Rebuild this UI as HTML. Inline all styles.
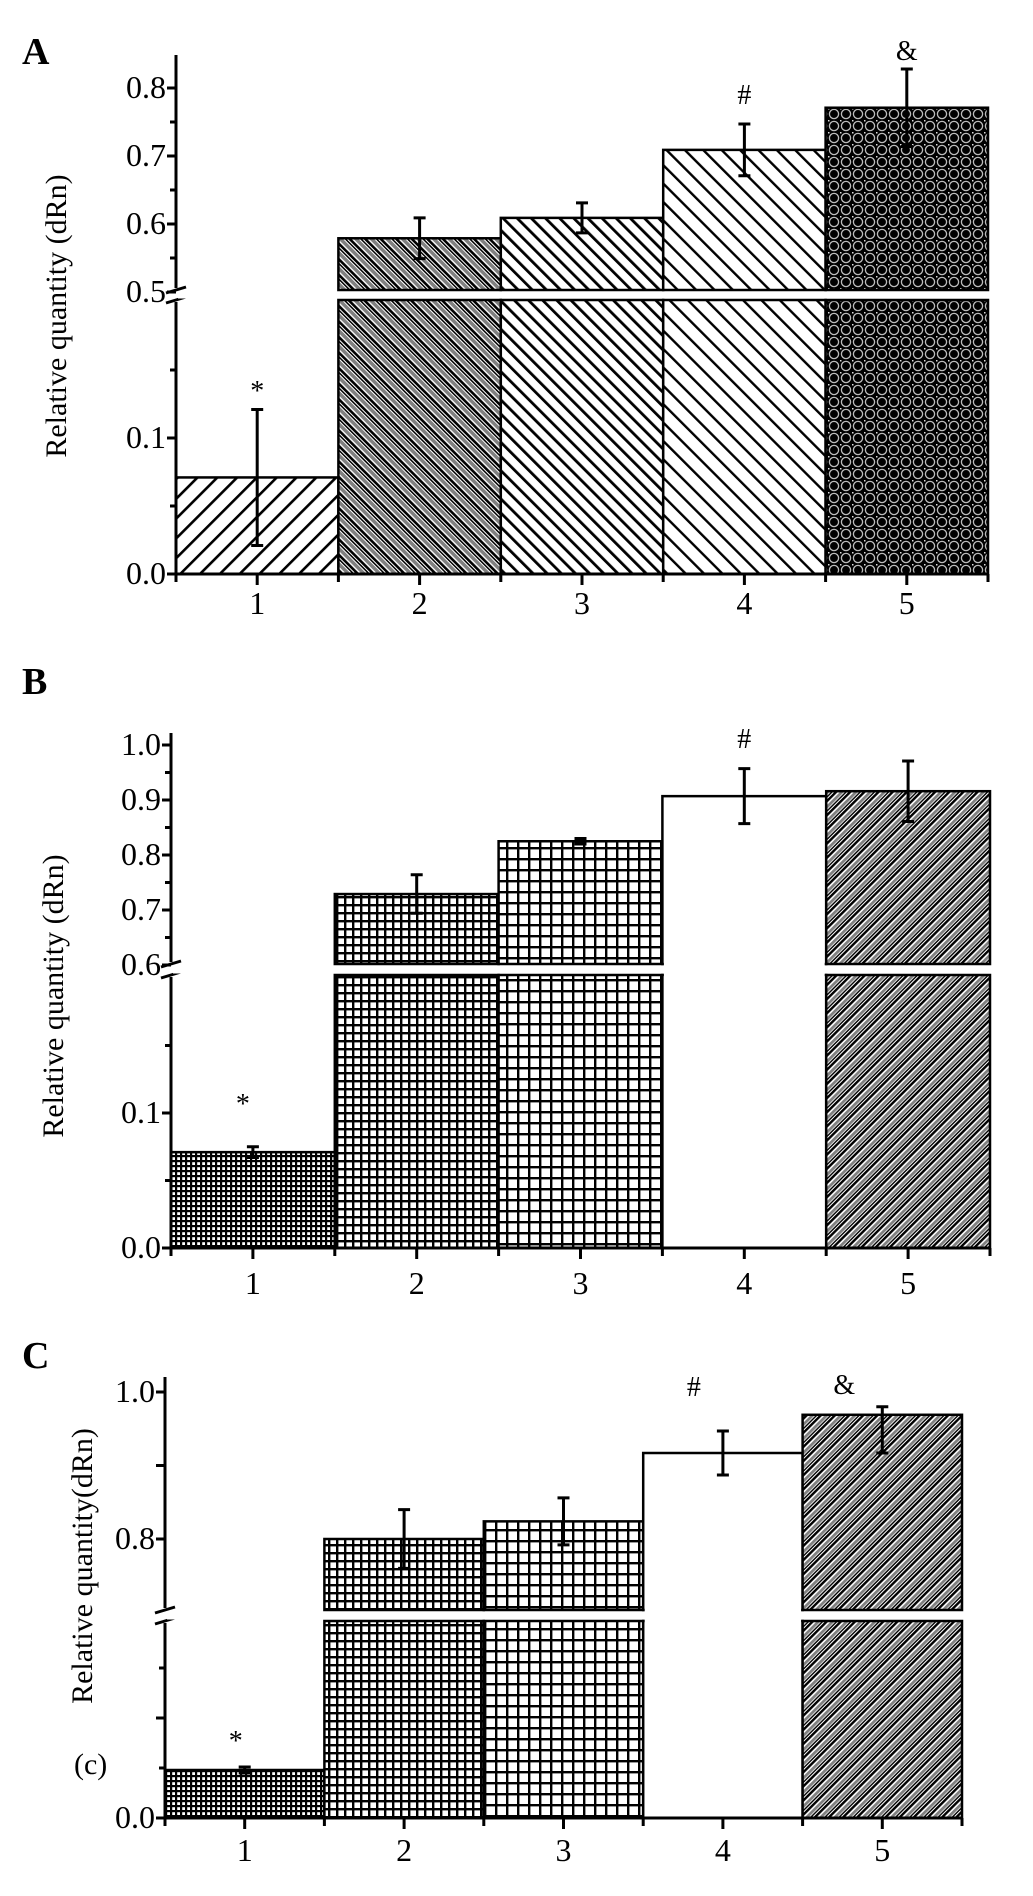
<!DOCTYPE html>
<html><head><meta charset="utf-8">
<style>
html,body{margin:0;padding:0;background:#fff;}
svg{display:block;}
text{font-family:"Liberation Serif",serif;fill:#000;}
</style></head>
<body>
<svg id="fig" width="1033" height="1896" viewBox="0 0 1033 1896" xmlns="http://www.w3.org/2000/svg">
<defs>
  <pattern id="pA1" patternUnits="userSpaceOnUse" width="14" height="14" patternTransform="rotate(45)"><rect width="14" height="14" fill="#fff"/><rect x="0" y="0" width="2.6" height="14" fill="#000"/></pattern>
  <pattern id="pA2" patternUnits="userSpaceOnUse" width="11" height="11" patternTransform="rotate(-45)"><rect width="11" height="11" fill="#fff"/><rect x="0" width="2.6" height="11" fill="#000"/><rect x="4" width="3.5" height="11" fill="#808080"/><rect x="8.5" width="1.5" height="11" fill="#000"/></pattern>
  <pattern id="pA3" patternUnits="userSpaceOnUse" width="10" height="10" patternTransform="rotate(-45)"><rect width="10" height="10" fill="#fff"/><rect x="0" width="2.8" height="10" fill="#000"/></pattern>
  <pattern id="pA4" patternUnits="userSpaceOnUse" width="13" height="13" patternTransform="rotate(-45)"><rect width="13" height="13" fill="#fff"/><rect x="0" width="2.4" height="13" fill="#000"/></pattern>
  <pattern id="pA5" patternUnits="userSpaceOnUse" width="12" height="12"><rect width="12" height="12" fill="#000"/><circle cx="6" cy="6" r="4.6" fill="none" stroke="#bbb" stroke-width="1.3"/><rect x="0" y="0" width="1.5" height="1.5" fill="#ddd"/></pattern>
  <pattern id="pG1" patternUnits="userSpaceOnUse" width="5" height="5"><rect width="5" height="5" fill="#fff"/><rect width="5" height="2.2" fill="#000"/><rect width="2.2" height="5" fill="#000"/></pattern>
  <pattern id="pG2" patternUnits="userSpaceOnUse" width="8" height="8"><rect width="8" height="8" fill="#fff"/><rect width="8" height="2.4" fill="#000"/><rect width="2.4" height="8" fill="#000"/></pattern>
  <pattern id="pG3" patternUnits="userSpaceOnUse" width="11" height="11"><rect width="11" height="11" fill="#fff"/><rect width="11" height="2.4" fill="#000"/><rect width="2.4" height="11" fill="#000"/></pattern>
  <pattern id="pD5" patternUnits="userSpaceOnUse" width="10" height="10" patternTransform="rotate(45)"><rect width="10" height="10" fill="#fff"/><rect x="0" width="2.4" height="10" fill="#000"/><rect x="4" width="2.8" height="10" fill="#808080"/><rect x="7.6" width="1.4" height="10" fill="#000"/></pattern>
</defs>
<g id="root"></g>
</svg>
<script>
// Panel A data
const catsA = ["1","2","3","4","5"];
const valsA = [0.071, 0.579, 0.609, 0.709, 0.771];
const errLoA = [0.05, 0.03, 0.022, 0.038, 0.057];
const errHiA = [0.05, 0.03, 0.022, 0.038, 0.057];
const ticksLowA = ["0.0","0.1"];
const ticksUpA = ["0.5","0.6","0.7","0.8"];
const marksA = ["*","","","#","&"];
// Panel B data
const catsB = ["1","2","3","4","5"];
const valsB = [0.071, 0.729, 0.825, 0.907, 0.916];
const errLoB = [0.004, 0.035, 0.005, 0.05, 0.055];
const errHiB = [0.004, 0.035, 0.005, 0.05, 0.055];
const ticksLowB = ["0.0","0.1"];
const ticksUpB = ["0.6","0.7","0.8","0.9","1.0"];
const marksB = ["*","","","#",""];
// Panel C data
const catsC = ["1","2","3","4","5"];
const valsC = [0.048, 0.80, 0.824, 0.917, 0.969];
const errLoC = [0.003, 0.04, 0.032, 0.03, 0.052];
const errHiC = [0.003, 0.04, 0.032, 0.03, 0.011];
const ticksLowC = ["0.0",""];
const ticksUpC = ["0.8","","1.0"];
const marksC = ["*","","","#","&"];

const NS = "http://www.w3.org/2000/svg";
const root = document.getElementById('root');
function mk(tag, attrs, parent){const e=document.createElementNS(NS,tag);for(const k in attrs)e.setAttribute(k,attrs[k]);(parent||root).appendChild(e);return e;}

function panel(cfg){
  const g = mk('g',{});
  
  
  const n = cfg.cats.length;
  const bw = (cfg.x1 - cfg.x0)/n;
  const xs = i => cfg.x0 + i*bw;
  const yLow = v => cfg.bottom - v*cfg.pxLow;
  const yUp = v => cfg.upRefY - (v - cfg.upRefV)*cfg.pxUp;
  const yv = v => v > cfg.lowTopV ? yUp(v) : yLow(v);
  for(let i=0;i<n;i++){
    const v = cfg.vals[i]; const top = yv(v);
    const fill = cfg.fills[i];
    if(v > cfg.lowTopV){
      const r1 = mk('rect',{x:xs(i),y:top,width:bw,height:cfg.upBottom-top,fill:fill,stroke:'#000','stroke-width':2.5},g);
      
      
      const r2 = mk('rect',{x:xs(i),y:cfg.lowTop,width:bw,height:cfg.bottom-cfg.lowTop,fill:fill,stroke:'#000','stroke-width':2.5},g);
      
      
      if(fill==='#fff'){
        const cover = mk('rect',{x:xs(i)+1.5,y:cfg.upBottom-2,width:bw-3,height:cfg.lowTop-cfg.upBottom+4,fill:'#fff'},g);
        
        
      }
    } else {
      const r = mk('rect',{x:xs(i),y:top,width:bw,height:cfg.bottom-top,fill:fill,stroke:'#000','stroke-width':2.5},g);
      
      
    }
    const cx = xs(i)+bw/2;
    const yt = yv(v+cfg.errHi[i]), yb = yv(v-cfg.errLo[i]);
    const e = mk('path',{d:`M${cx},${yt}V${yb}M${cx-6},${yt}H${cx+6}M${cx-6},${yb}H${cx+6}`,stroke:'#000','stroke-width':3,fill:'none'},g);
    
    
    if(cfg.marks[i]){
      const t = mk('text',{x:cx+(cfg.markDx[i]||0),y:cfg.markY[i],'text-anchor':'middle','font-size':28},g);
      t.textContent = cfg.marks[i];
      
      
    }
    const xl = mk('text',{x:cx,y:cfg.xLabelY,'text-anchor':'middle','font-size':32},g);
    xl.textContent = cfg.cats[i];
    
    
  }
  let d = `M${cfg.x0},${cfg.bottom}H${cfg.x1}`;
  for(let i=0;i<=n;i++) d += `M${xs(i)},${cfg.bottom}v8`;
  for(let i=0;i<n;i++) d += `M${xs(i)+bw/2},${cfg.bottom}v11`;
  const xa = mk('path',{d:d,stroke:'#000','stroke-width':3,fill:'none'},g);
  
  
  const ax = cfg.x0;
  let yd = `M${ax},${cfg.bottom}V${cfg.lowTop+2}M${ax},${cfg.upBottom-2}V${cfg.axisTop}`;
  yd += `M${ax-10},${cfg.upBottom+3}l20,-6M${ax-10},${cfg.lowTop+3}l20,-6`;
  cfg.ticksLow.forEach((lab,k)=>{
    const v = k*cfg.lowStep; const y = yLow(v);
    yd += `M${ax},${y}h-9`;
    const ym = yLow(v+cfg.lowStep/2); if(ym>cfg.lowTop+4) yd += `M${ax},${ym}h-6`;
    if(lab){const t=mk('text',{x:ax-10,y:y+10,'text-anchor':'end','font-size':32},g);t.textContent=lab;
      
      }
  });
  cfg.ticksUp.forEach((lab,k)=>{
    const v = cfg.upRefV + k*cfg.upStep; const y = yUp(v);
    yd += `M${ax},${y}h-9`;
    const ym = yUp(v+cfg.upStep/2); if(ym>cfg.axisTop+4 && cfg.upMinor) yd += `M${ax},${ym}h-6`;
    if(lab){const t=mk('text',{x:ax-10,y:y+10,'text-anchor':'end','font-size':32},g);t.textContent=lab;
      
      }
  });
  const ya = mk('path',{d:yd,stroke:'#000','stroke-width':3,fill:'none'},g);
  
  
  const gap = mk('rect',{x:ax+2,y:cfg.upBottom+1.5,width:cfg.x1-ax,height:cfg.lowTop-cfg.upBottom-3,fill:'#fff'},g);
  
  
  const tt = mk('text',{x:0,y:0,'text-anchor':'middle','font-size':cfg.titleSize,transform:`translate(${cfg.titleX},${cfg.titleY}) rotate(-90)`},g);
  tt.textContent = cfg.title;
  
  
  const pl = mk('text',{x:cfg.labX,y:cfg.labY,'font-size':38,'font-weight':'bold'},g);
  pl.textContent = cfg.id;
  
  
}

panel({id:'A',cats:catsA,vals:valsA,errLo:errLoA,errHi:errHiA,ticksLow:ticksLowA,ticksUp:ticksUpA,marks:marksA,
  markY:[400,104,0,104,60],markDx:[0,0,0,0,0],
  fills:['url(#pA1)','url(#pA2)','url(#pA3)','url(#pA4)','url(#pA5)'],
  x0:176,x1:988,bottom:574,pxLow:1360,lowTopV:0.2,lowTop:300,lowStep:0.1,
  upRefV:0.5,upRefY:292,pxUp:680,upBottom:290,upStep:0.1,upMinor:true,axisTop:55,
  xLabelY:614,title:'Relative  quantity (dRn)',titleSize:30,titleX:66,titleY:316,labX:22,labY:64});
panel({id:'B',cats:catsB,vals:valsB,errLo:errLoB,errHi:errHiB,ticksLow:ticksLowB,ticksUp:ticksUpB,marks:marksB,
  markY:[1113,0,0,748,0],markDx:[-10,0,0,0,0],
  fills:['url(#pG1)','url(#pG2)','url(#pG3)','#fff','url(#pD5)'],
  x0:171,x1:990,bottom:1248,pxLow:1350,lowTopV:0.2,lowTop:975,lowStep:0.1,
  upRefV:0.6,upRefY:965,pxUp:550,upBottom:964,upStep:0.1,upMinor:true,axisTop:733,
  xLabelY:1294,title:'Relative quantity (dRn)',titleSize:30,titleX:63,titleY:996,labX:22,labY:694});
panel({id:'C',cats:catsC,vals:valsC,errLo:errLoC,errHi:errHiC,ticksLow:ticksLowC,ticksUp:ticksUpC,marks:marksC,
  markY:[1750,0,0,1396,1394],markDx:[-9,0,0,-29,-38],
  fills:['url(#pG1)','url(#pG2)','url(#pG3)','#fff','url(#pD5)'],
  x0:165,x1:962,bottom:1818,pxLow:1000,lowTopV:0.2,lowTop:1621,lowStep:0.1,
  upRefV:0.8,upRefY:1539,pxUp:735,upBottom:1610,upStep:0.1,upMinor:false,axisTop:1377,
  xLabelY:1861,title:'Relative quantity(dRn)',titleSize:30,titleX:92,titleY:1566,labX:22,labY:1368});
const cl = mk('text',{x:74,y:1774,'font-size':30});
cl.textContent = '(c)';


</script>
</body></html>
